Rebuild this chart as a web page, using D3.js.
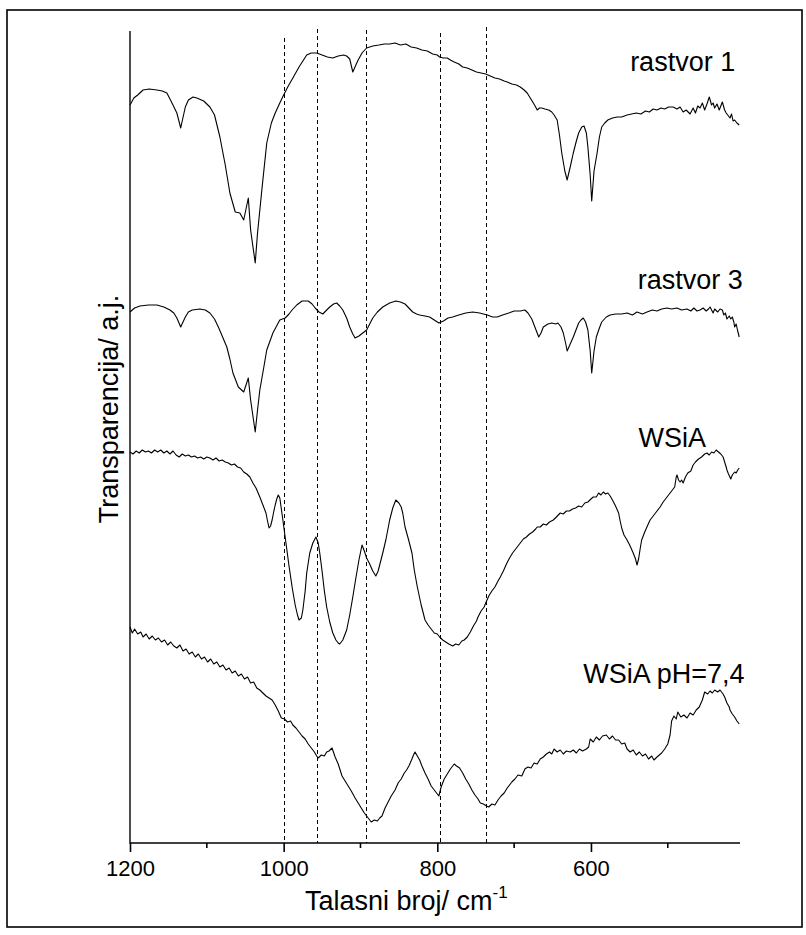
<!DOCTYPE html>
<html><head><meta charset="utf-8">
<script src="https://cdn.jsdelivr.net/npm/d3@7"></script>
<style>body{margin:0;background:#fff}svg{display:block}text{font-family:"Liberation Sans",Arial,sans-serif;fill:#000}</style>
</head><body><svg id="c" width="806" height="935"></svg>
<script>
// wavenumber (cm-1), transparency (arbitrary units)
const rastvor1 = [[1200,738],[1195,745],[1190,748],[1183,753],[1175,754],[1165,753],[1158,752],[1152,750],[1146,741],[1139,730],[1134,715],[1128,736],[1124,743],[1118,746],[1113,745],[1104,742],[1096,736],[1090,728],[1083,706],[1076,678],[1070,650],[1063,631],[1057,630],[1052,623],[1046,645],[1043,613],[1037,580],[1034,610],[1028,656],[1022,700],[1016,720],[1011,730],[1005,740],[1000,748],[994,757],[988,765],[980,776],[975,782],[970,788],[964,790],[957,790],[950,788],[943,786],[936,785],[929,787],[922,788],[918,787],[914,784],[910,771],[906,778],[903,783],[898,790],[892,795],[884,797],[876,798],[869,799],[862,799],[855,800],[848,798],[841,799],[834,796],[827,795],[820,793],[813,792],[806,789],[800,788],[797,786],[792,785],[787,785],[783,783],[778,781],[772,779],[767,776],[761,775],[755,773],[749,771],[743,770],[737,769],[731,767],[725,765],[719,764],[713,762],[709,761],[703,759],[697,758],[692,756],[687,753],[683,750],[679,745],[675,740],[672,736],[670,733],[667,735],[664,735],[660,734],[655,733],[651,731],[648,728],[644,723],[641,708],[638,690],[634,672],[631,663],[627,676],[623,690],[619,702],[616,710],[612,716],[609,717],[606,710],[604,696],[601,668],[599,642],[596,672],[592,690],[589,706],[586,716],[582,720],[578,723],[572,725],[566,726],[560,726],[553,728],[547,729],[541,730],[535,729],[529,732],[524,731],[519,734],[514,733],[509,735],[504,734],[499,736],[493,736],[488,734],[484,736],[480,731],[476,733],[471,729],[467,735],[464,730],[461,737],[458,735],[455,740],[452,733],[449,739],[446,746],[443,738],[441,740],[439,735],[436,739],[433,733],[431,737],[429,741],[426,733],[424,730],[422,728],[419,725],[417,729],[415,722],[413,723],[410,720],[407,718]];

const rastvor3 = [[1200,531],[1194,535],[1187,537],[1176,538],[1165,538],[1156,536],[1148,533],[1143,530],[1139,525],[1134,516],[1128,526],[1124,531],[1119,533],[1109,534],[1102,533],[1096,530],[1090,524],[1085,516],[1080,507],[1074,496],[1070,484],[1066,470],[1059,456],[1052,451],[1046,465],[1043,443],[1037,411],[1034,433],[1031,453],[1026,475],[1022,493],[1014,510],[1005,523],[998,525],[993,529],[989,533],[983,538],[976,542],[968,542],[963,539],[959,535],[954,531],[949,529],[944,533],[940,536],[935,539],[931,540],[927,537],[923,533],[918,525],[914,516],[910,509],[907,505],[902,507],[897,510],[892,513],[888,519],[884,525],[878,531],[871,536],[862,540],[854,542],[848,541],[842,539],[837,535],[832,531],[827,529],[823,528],[816,527],[810,526],[804,523],[798,520],[792,522],[786,525],[780,526],[772,528],[763,530],[754,531],[745,530],[735,528],[728,526],[722,526],[715,528],[707,530],[700,532],[692,532],[686,533],[682,530],[677,524],[673,516],[670,510],[668,506],[665,510],[662,516],[656,519],[651,520],[646,519],[643,520],[639,516],[636,510],[633,500],[631,492],[627,499],[623,506],[619,514],[616,520],[613,523],[610,525],[607,521],[604,513],[601,492],[599,470],[596,492],[593,506],[589,515],[586,521],[580,526],[575,528],[568,529],[560,529],[553,530],[546,528],[540,531],[533,529],[527,531],[520,533],[514,532],[508,534],[501,535],[495,534],[488,535],[482,533],[475,534],[470,532],[466,535],[462,532],[458,533],[454,535],[450,532],[447,534],[445,536],[443,533],[441,530],[439,534],[435,531],[432,534],[429,533],[427,528],[425,530],[423,524],[420,527],[418,524],[416,526],[414,521],[413,516],[411,519],[409,512],[407,506]];

const wsia = [[1200,391],[1196,389],[1192,392],[1188,390],[1184,393],[1180,391],[1176,392],[1172,390],[1168,393],[1164,391],[1160,393],[1156,390],[1152,392],[1148,389],[1144,392],[1140,388],[1136,386],[1132,389],[1128,387],[1124,388],[1120,386],[1116,387],[1112,385],[1108,386],[1104,384],[1100,386],[1096,385],[1092,383],[1088,385],[1084,382],[1080,383],[1076,381],[1072,380],[1068,378],[1064,379],[1060,376],[1056,375],[1052,371],[1048,369],[1044,366],[1040,360],[1036,355],[1031,346],[1027,338],[1023,330],[1021,322],[1019,315],[1017,317],[1015,323],[1013,331],[1011,338],[1009,344],[1007,348],[1005,345],[1003,334],[1001,323],[997,300],[993,277],[989,256],[985,238],[982,228],[980,223],[977,225],[975,233],[972,252],[970,270],[966,290],[962,300],[958,306],[955,300],[953,290],[950,272],[947,252],[944,236],[940,221],[936,210],[932,203],[929,200],[927,199],[923,203],[918,213],[914,228],[910,246],[906,265],[902,283],[898,298],[895,292],[892,285],[888,279],[884,272],[880,267],[877,272],[874,281],[871,290],[867,303],[862,323],[858,335],[854,343],[850,340],[847,336],[845,330],[842,316],[838,305],[833,290],[830,273],[826,256],[821,238],[816,223],[812,218],[808,214],[804,210],[800,209],[797,206],[793,203],[789,201],[785,199],[780,197],[776,199],[772,198],[768,202],[765,203],[761,206],[757,211],[753,217],[749,222],[747,226],[743,232],[739,236],[737,240],[733,247],[729,252],[725,256],[721,262],[718,266],[714,272],[710,279],[706,285],[702,290],[698,294],[694,298],[692,300],[688,304],[684,306],[680,309],[676,311],[672,314],[670,316],[666,316],[662,319],[658,318],[654,321],[649,323],[645,326],[640,330],[636,329],[632,332],[628,332],[624,334],[620,335],[616,337],[612,336],[608,340],[604,341],[600,344],[597,346],[593,346],[590,350],[587,348],[584,351],[581,349],[578,350],[575,347],[572,343],[568,337],[564,330],[562,322],[560,315],[557,308],[553,303],[549,297],[545,290],[542,284],[540,278],[538,284],[536,294],[534,303],[530,311],[526,318],[523,323],[519,327],[515,331],[510,336],[506,341],[502,345],[498,349],[494,353],[491,356],[489,366],[488,368],[486,363],[484,361],[482,363],[480,360],[477,366],[474,370],[470,372],[467,378],[464,381],[460,384],[456,386],[452,389],[449,390],[446,388],[443,391],[440,390],[437,393],[434,391],[431,389],[428,386],[426,381],[424,376],[423,373],[421,369],[418,364],[416,368],[413,371],[411,370],[409,373],[407,375]];

const wsiaPH74 = [[1200,216],[1197,210],[1194,214],[1190,209],[1186,211],[1183,206],[1179,209],[1175,204],[1171,207],[1167,203],[1163,205],[1159,201],[1155,203],[1151,198],[1147,201],[1143,197],[1139,195],[1135,198],[1131,192],[1127,194],[1123,189],[1119,191],[1115,186],[1111,189],[1107,184],[1103,186],[1099,181],[1095,184],[1091,179],[1087,181],[1083,176],[1079,178],[1075,173],[1071,175],[1067,170],[1063,172],[1059,167],[1055,169],[1051,164],[1047,166],[1043,160],[1039,161],[1035,155],[1031,153],[1027,150],[1023,147],[1019,145],[1015,143],[1011,138],[1007,132],[1003,125],[999,124],[995,121],[991,122],[988,118],[984,115],[980,111],[976,107],[972,104],[968,99],[964,95],[960,91],[957,87],[955,85],[951,88],[947,87],[944,91],[941,92],[937,95],[933,86],[929,79],[924,67],[920,62],[916,57],[912,52],[907,45],[903,40],[899,35],[895,30],[891,26],[889,24],[886,21],[882,23],[878,22],[875,25],[872,27],[868,35],[864,41],[860,47],[855,53],[851,60],[847,64],[843,70],[840,73],[837,77],[833,84],[831,88],[829,91],[826,87],[823,83],[820,77],[816,70],[812,64],[808,57],[804,53],[801,50],[798,47],[795,56],[791,64],[787,69],[783,74],[778,79],[775,77],[771,75],[767,70],[763,64],[759,59],[755,53],[751,48],[747,44],[744,40],[740,39],[736,37],[733,36],[729,39],[725,38],[721,43],[717,47],[713,50],[709,55],[705,59],[703,61],[699,64],[695,68],[690,67],[686,74],[682,76],[678,75],[674,80],[670,79],[666,84],[662,86],[658,89],[654,91],[651,89],[648,94],[644,91],[640,93],[636,89],[632,92],[627,91],[623,93],[619,90],[615,94],[611,92],[606,94],[603,96],[601,104],[597,101],[593,106],[589,103],[585,107],[580,108],[576,104],[572,107],[568,103],[564,103],[560,99],[556,100],[553,94],[549,91],[545,93],[541,88],[537,91],[533,87],[529,89],[525,84],[521,87],[518,83],[514,86],[511,88],[508,90],[504,94],[500,99],[497,108],[495,122],[492,127],[489,124],[487,131],[483,126],[479,128],[475,125],[471,130],[467,128],[463,133],[459,136],[455,143],[452,151],[448,149],[445,152],[442,150],[439,153],[435,151],[432,153],[428,149],[426,146],[423,140],[420,136],[419,133],[416,129],[413,126],[410,122],[407,119]];

const seriesNames = ["rastvor 1", "rastvor 3", "WSiA", "WSiA pH=7,4"];
const labelAnchors = [[549,772],[539,554],[538,396],[610,160]]; // [wavenumber, a.u.]
const majorTicks = [1200, 1000, 800, 600];
const minorTicks = [1100, 900, 700, 500];
const dashedLines = [1000, 956, 893, 796, 737];
const dashedTops = [805, 814, 813, 810, 816];
const xDomain = [1200, 406];
const yDomain = [0, 812];
const xTitle = "Talasni broj/ cm";
const xTitleSup = "-1";
const yTitle = "Transparencija/ a.j.";

const svg = d3.select("#c");
const L = 130, R = 740, T = 31, B = 843;
const x = d3.scaleLinear().domain(xDomain).range([L, R]);
const y = d3.scaleLinear().domain(yDomain).range([B, T]);

// outer frame
svg.append("rect").attr("x", 7).attr("y", 10).attr("width", 795).attr("height", 917)
  .attr("fill", "none").attr("stroke", "#000").attr("stroke-width", 1.6);

// dashed reference lines
svg.append("g").selectAll("line").data(dashedLines).join("line")
  .attr("x1", d => Math.round(x(d)) + 0.5).attr("x2", d => Math.round(x(d)) + 0.5)
  .attr("y1", (d, i) => y(dashedTops[i])).attr("y2", B)
  .attr("stroke", "#000").attr("stroke-width", 1).attr("stroke-dasharray", "4,3");

// curves
const line = d3.line().x(d => x(d[0])).y(d => y(d[1]));
const all = [rastvor1, rastvor3, wsia, wsiaPH74];
svg.append("g").selectAll("path").data(all).join("path")
  .attr("d", line).attr("fill", "none").attr("stroke", "#000").attr("stroke-width", 1.1)
  .attr("stroke-linejoin", "round");

// bottom axis
const gx = svg.append("g").attr("transform", `translate(0,${B})`);
gx.call(d3.axisBottom(x).tickValues(majorTicks).tickSize(9).tickPadding(8).tickFormat(d3.format("d")));
gx.call(g => g.select(".domain").attr("d", `M${L},0H${R}`).attr("stroke-width", 1.6));
gx.selectAll(".tick line").attr("stroke-width", 1.6);
gx.selectAll(".tick text").attr("font-size", 22).attr("font-family", "Liberation Sans, Arial, sans-serif").attr("fill", "#000");
const gm = svg.append("g").attr("transform", `translate(0,${B})`);
gm.selectAll("line").data(minorTicks).join("line")
  .attr("x1", d => x(d)).attr("x2", d => x(d)).attr("y1", 0).attr("y2", 5)
  .attr("stroke", "#000").attr("stroke-width", 1.6);

// left axis (no ticks)
svg.append("line").attr("x1", L).attr("x2", L).attr("y1", T).attr("y2", B + 0.8)
  .attr("stroke", "#000").attr("stroke-width", 1.4);

// series labels
svg.append("g").selectAll("text").data(seriesNames).join("text")
  .attr("x", (d, i) => x(labelAnchors[i][0])).attr("y", (d, i) => y(labelAnchors[i][1]))
  .attr("font-size", 27).text(d => d);

// axis titles
const xt = svg.append("text").attr("x", 305).attr("y", 910).attr("font-size", 27);
xt.append("tspan").text(xTitle);
xt.append("tspan").attr("dy", -12).attr("font-size", 17).text(xTitleSup);
svg.append("text").attr("transform", "translate(118,409) rotate(-90)")
  .attr("text-anchor", "middle").attr("font-size", 27).text(yTitle);
</script></body></html>
